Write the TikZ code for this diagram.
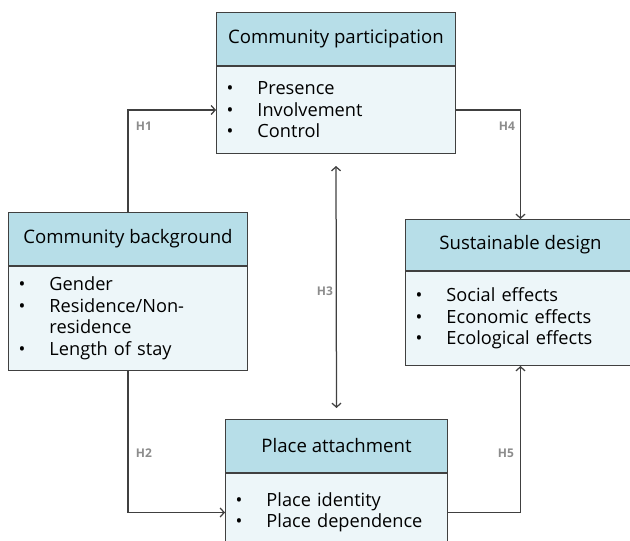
\documentclass[tikz,border=0pt]{standalone}
\usepackage{fontspec}
\setmainfont{Open Sans}
\usetikzlibrary{positioning,arrows.meta}

\definecolor{headblue}{HTML}{B7DEE8}
\definecolor{bodyblue}{HTML}{EDF6F9}
\definecolor{edgegray}{HTML}{404040}
\definecolor{labgray}{HTML}{8C8C8C}

\newcommand{\bitem}[1]{\makebox[31pt][l]{\textbullet}#1}

\tikzset{
  head/.style={draw=edgegray, fill=headblue, line width=1pt, inner sep=0pt,
    minimum width=#1, minimum height=53pt, anchor=north west,
    font=\fontsize{18.6}{22}\selectfont},
  body/.style n args={3}{draw=edgegray, fill=bodyblue, line width=1pt,
    inner xsep=10pt, inner ysep=0pt, align=left, minimum width=#1,
    text width=#2, minimum height=#3, font=\fontsize{18.2}{21.5}\selectfont},
  link/.style={edgegray, line width=1.25pt, >={Straight Barb[length=4pt,width=9pt]}, ->},
  hlab/.style={text=labgray, font=\fontsize{12}{14}\selectfont\bfseries}
}

\begin{document}
\begin{tikzpicture}[x=1pt, y=-1pt]
        \path[use as bounding box] (0,0) rectangle (630,541);
        \clip (0,0) rectangle (630,541);

        % boxes
        \node[head=239pt] (cph) at (216,12) {Community participation};
        \node[body={239pt}{219pt}{87pt}, below=0pt of cph] (cpb)
          {\bitem{Presence}\\ \bitem{Involvement}\\ \bitem{Control}};

        \node[head=239pt] (cbh) at (8,212) {Community background};
        \node[body={239pt}{219pt}{104pt}, below=0pt of cbh] (cbb)
          {\bitem{Gender}\\ \bitem{Residence/Non-}\\ \hspace*{31pt}residence\\ \bitem{Length of stay}};

        \node[head=230pt, minimum height=51pt] (sdh) at (405,219) {Sustainable design};
        \node[body={230pt}{210pt}{94pt}, below=0pt of sdh] (sdb)
          {\bitem{Social effects}\\ \bitem{Economic effects}\\ \bitem{Ecological effects}};

        \node[head=222pt] (pah) at (225,419) {Place attachment};
        \node[body={222pt}{202pt}{78pt}, below=0pt of pah] (pab)
          {\bitem{Place identity}\\ \bitem{Place dependence}};

        % hypotheses
        \draw[link] (cbh.north) |- (cpb.west);
        \draw[link] (cbb.south) |- (pab.west);
        \draw[link, <->, shorten <=12pt, shorten >=11pt] (cpb.south) -- (pah.north);
        \draw[link] (cpb.east) -| (sdh.north);
        \draw[link] (pab.east) -| (sdb.south);

        \node[hlab] (h1) at (144,126) {H1};
        \node[hlab] (h2) at (144,453) {H2};
        \node[hlab] (h3) at (325,291) {H3};
        \node[hlab] (h4) at (507,126) {H4};
        \node[hlab] (h5) at (506,453) {H5};
\end{tikzpicture}
\end{document}
